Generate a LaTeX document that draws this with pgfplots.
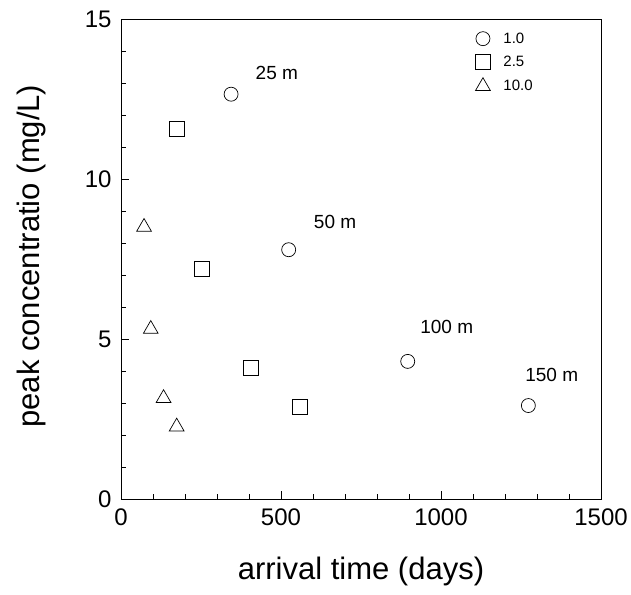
\documentclass[border=0pt]{standalone}
\usepackage{fontspec}
\setmainfont{Liberation Sans}
\usepackage{pgfplots}
\pgfplotsset{compat=1.18}
\begin{document}
\begin{tikzpicture}[x=1pt,y=1pt]
\useasboundingbox (0,0) rectangle (631,594);
\begin{axis}[
  at={(121pt,95pt)}, anchor=south west,
  scale only axis, width=480pt, height=480pt,
  xmin=0, xmax=1500, ymin=0, ymax=15,
  xtick={0,500,1000,1500}, ytick={0,5,10,15},
  minor x tick num=4, minor y tick num=4,
  tick align=inside, xtick pos=bottom, ytick pos=left,
  major tick length=8pt, minor tick length=4.5pt,
  tick style={black, line width=0.6pt},
  axis line style={line width=0.8pt},
  /pgf/number format/assume math mode=true,
  /pgf/number format/set thousands separator={},
  ticklabel style={font=\fontsize{24}{24}\selectfont},
  xticklabel style={yshift=-6pt},
  yticklabel style={xshift=-6pt},
  xlabel={arrival time (days)},
  ylabel={peak concentratio (mg/L)},
  xlabel style={at={(axis description cs:0.5,-0.15)}, anchor=center, font=\fontsize{31}{31}\selectfont},
  ylabel style={at={(axis description cs:-0.1875,0.506)}, anchor=center, rotate=0, font=\fontsize{31}{31}\selectfont},
  legend style={draw=none, fill=none, at={(rel axis cs:0.738,0.974)}, anchor=north west,
    font=\fontsize{15}{15}\selectfont, row sep=8.5pt, inner sep=0pt,
    nodes={inner sep=1pt},
    /tikz/every odd column/.append style={column sep=12pt}},
  legend cell align=left,
  legend image code/.code={\draw[#1] plot coordinates {(0.3cm,0cm)};},
  only marks,
]
\addplot[mark=o, mark size=7pt, black, line width=0.7pt] coordinates {
  (344,12.65) (524,7.79) (896,4.30) (1273,2.92)
};
\addlegendentry{1.0}
\addplot[mark=square, mark size=7.5pt, black, line width=0.7pt] coordinates {
  (175,11.56) (252,7.20) (405,4.10) (559,2.88)
};
\addlegendentry{2.5}
\addplot[mark=triangle, mark size=8.5pt, black, line width=0.7pt] coordinates {
  (72,8.5) (93,5.31) (133,3.15) (174,2.26)
};
\addlegendentry{10.0}
\begin{scope}[font=\fontsize{19}{19}\selectfont]
\node at (axis cs:487,13.31) {25 m};
\node at (axis cs:669,8.67) {50 m};
\node at (axis cs:1018,5.38) {100 m};
\node at (axis cs:1346,3.89) {150 m};
\end{scope}
\end{axis}
\end{tikzpicture}
\end{document}
